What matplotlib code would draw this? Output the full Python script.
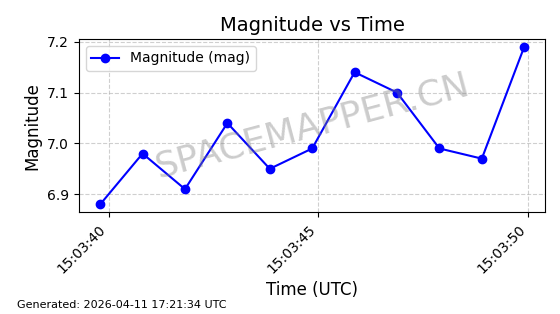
import pandas as pd
import matplotlib
matplotlib.use('Agg')
import matplotlib.pyplot as plt
import matplotlib.dates as mdates

times = ['15:03:39.80', '15:03:40.81', '15:03:41.82', '15:03:42.83', '15:03:43.84',
         '15:03:44.85', '15:03:45.86', '15:03:46.87', '15:03:47.88', '15:03:48.89',
         '15:03:49.90']
magnitude = [6.88, 6.98, 6.91, 7.04, 6.95, 6.99, 7.14, 7.10, 6.99, 6.97, 7.19]
footer = 'Generated: 2026-04-11 17:21:34 UTC'

t = pd.to_datetime(['2026-04-11 ' + s for s in times])

fig, ax = plt.subplots(figsize=(5.6, 3.14), dpi=100)
ax.plot(t, magnitude, color='blue', marker='o', markersize=6, linewidth=1.5,
        label='Magnitude (mag)')

ax.set_title('Magnitude vs Time', fontsize=14)
ax.set_xlabel('Time (UTC)', fontsize=12)
ax.set_ylabel('Magnitude', fontsize=12)
ax.grid(True, linestyle='--', alpha=0.6)
ax.legend(loc='upper left')

ax.xaxis.set_major_locator(mdates.SecondLocator(bysecond=range(0, 60, 5)))
ax.xaxis.set_major_formatter(mdates.DateFormatter('%H:%M:%S'))
plt.setp(ax.get_xticklabels(), rotation=45, ha='right')

# watermark
ax.text(0.5, 0.5, 'SPACEMAPPER.CN', transform=ax.transAxes, fontsize=26,
        color='gray', alpha=0.4, rotation=15, ha='center', va='center')

fig.text(0.03, 0.02, footer, fontsize=8)

fig.subplots_adjust(left=0.141, right=0.974, top=0.876, bottom=0.324)
fig.savefig('out.png', dpi=100)
